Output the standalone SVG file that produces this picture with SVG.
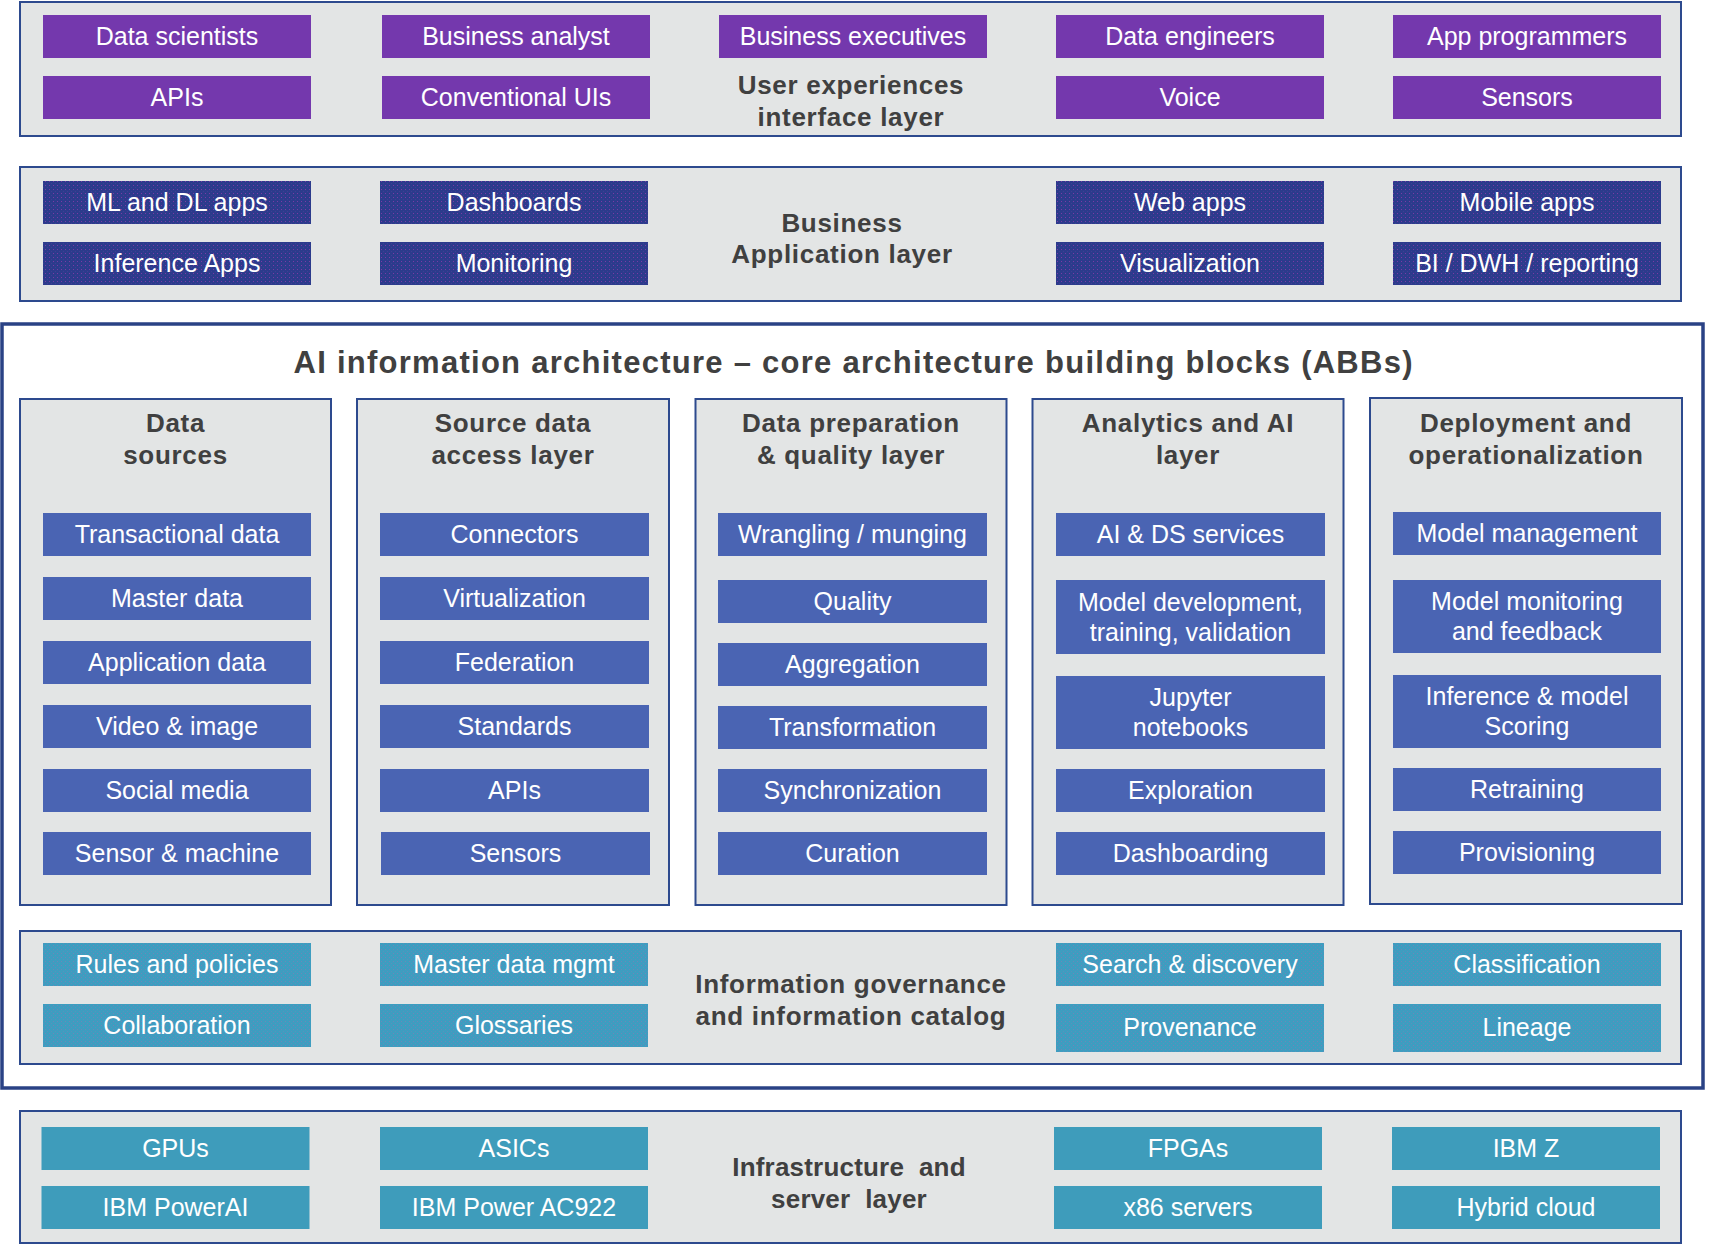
<svg xmlns="http://www.w3.org/2000/svg" width="1709" height="1246" viewBox="0 0 1709 1246">
<defs>
<pattern id="dotsNavy" width="4" height="4" patternUnits="userSpaceOnUse">
<rect width="4" height="4" fill="#2c3b8c"/>
<rect x="1" y="1" width="1" height="1" fill="#7a3aa6"/>
<rect x="3" y="3" width="1" height="1" fill="#3f3d96"/>
</pattern>
<pattern id="dotsTeal" width="4" height="4" patternUnits="userSpaceOnUse">
<rect width="4" height="4" fill="#3e9dc0"/>
<rect x="1" y="1" width="1" height="1" fill="#6f86b8"/>
<rect x="3" y="3" width="1" height="1" fill="#5a90bd"/>
</pattern>
</defs>
<style>
.layer{fill:#e3e5e5;stroke:#2d4a8e;stroke-width:2}
.col{fill:#e3e5e5;stroke:#2d4a8e;stroke-width:2}
.main{fill:#ffffff;stroke:#2a4285;stroke-width:3.5}
.purple{fill:#7438ad}
.navy{fill:url(#dotsNavy)}
.blue{fill:#4a64b3}
.gov{fill:url(#dotsTeal)}
.infra{fill:#3e9cbb}
.it{font-family:"Liberation Sans",Arial,sans-serif;font-size:25px;fill:#ffffff;text-anchor:middle}
.lbl{font-family:"Liberation Sans",Arial,sans-serif;font-size:26px;font-weight:bold;fill:#404040;text-anchor:middle;letter-spacing:0.7px}
.title{font-family:"Liberation Sans",Arial,sans-serif;font-size:31px;font-weight:bold;fill:#404040;text-anchor:middle}
</style>

<g id="user-experience-layer">
<rect class="layer" x="20" y="2" width="1661" height="134"/>
<text class="lbl" x="851" y="94">User experiences</text>
<text class="lbl" x="851" y="126">interface layer</text>
</g>
<g id="ux-data-scientists"><rect class="purple" x="43" y="15" width="268" height="43"/><text class="it" x="177" y="45">Data scientists</text></g>
<g id="ux-business-analyst"><rect class="purple" x="382" y="15" width="268" height="43"/><text class="it" x="516" y="45">Business analyst</text></g>
<g id="ux-business-executives"><rect class="purple" x="719" y="15" width="268" height="43"/><text class="it" x="853" y="45">Business executives</text></g>
<g id="ux-data-engineers"><rect class="purple" x="1056" y="15" width="268" height="43"/><text class="it" x="1190" y="45">Data engineers</text></g>
<g id="ux-app-programmers"><rect class="purple" x="1393" y="15" width="268" height="43"/><text class="it" x="1527" y="45">App programmers</text></g>
<g id="ux-apis"><rect class="purple" x="43" y="76" width="268" height="43"/><text class="it" x="177" y="106">APIs</text></g>
<g id="ux-conventional-uis"><rect class="purple" x="382" y="76" width="268" height="43"/><text class="it" x="516" y="106">Conventional UIs</text></g>
<g id="ux-voice"><rect class="purple" x="1056" y="76" width="268" height="43"/><text class="it" x="1190" y="106">Voice</text></g>
<g id="ux-sensors"><rect class="purple" x="1393" y="76" width="268" height="43"/><text class="it" x="1527" y="106">Sensors</text></g>

<g id="business-application-layer">
<rect class="layer" x="20" y="167" width="1661" height="134"/>
<text class="lbl" x="842" y="232">Business</text>
<text class="lbl" x="842" y="263">Application layer</text>
</g>
<g id="ba-ml-dl-apps"><rect class="navy" x="43" y="181" width="268" height="43"/><text class="it" x="177" y="211">ML and DL apps</text></g>
<g id="ba-dashboards"><rect class="navy" x="380" y="181" width="268" height="43"/><text class="it" x="514" y="211">Dashboards</text></g>
<g id="ba-web-apps"><rect class="navy" x="1056" y="181" width="268" height="43"/><text class="it" x="1190" y="211">Web apps</text></g>
<g id="ba-mobile-apps"><rect class="navy" x="1393" y="181" width="268" height="43"/><text class="it" x="1527" y="211">Mobile apps</text></g>
<g id="ba-inference-apps"><rect class="navy" x="43" y="242" width="268" height="43"/><text class="it" x="177" y="272">Inference Apps</text></g>
<g id="ba-monitoring"><rect class="navy" x="380" y="242" width="268" height="43"/><text class="it" x="514" y="272">Monitoring</text></g>
<g id="ba-visualization"><rect class="navy" x="1056" y="242" width="268" height="43"/><text class="it" x="1190" y="272">Visualization</text></g>
<g id="ba-bi-dwh"><rect class="navy" x="1393" y="242" width="268" height="43"/><text class="it" x="1527" y="272">BI / DWH / reporting</text></g>

<g id="ai-information-architecture">
<rect class="main" x="2" y="324" width="1701" height="764"/>
<text class="title" x="853" y="373" textLength="1119" lengthAdjust="spacing">AI information architecture – core architecture building blocks (ABBs)</text>
</g>

<g id="col-data-sources">
<rect class="col" x="20" y="399" width="311" height="506"/>
<text class="lbl" x="175.5" y="432">Data</text>
<text class="lbl" x="175.5" y="464">sources</text>
</g>
<g id="ds-transactional"><rect class="blue" x="43" y="513" width="268" height="43"/><text class="it" x="177" y="543">Transactional data</text></g>
<g id="ds-master"><rect class="blue" x="43" y="577" width="268" height="43"/><text class="it" x="177" y="607">Master data</text></g>
<g id="ds-application"><rect class="blue" x="43" y="641" width="268" height="43"/><text class="it" x="177" y="671">Application data</text></g>
<g id="ds-video"><rect class="blue" x="43" y="705" width="268" height="43"/><text class="it" x="177" y="735">Video &amp; image</text></g>
<g id="ds-social"><rect class="blue" x="43" y="769" width="268" height="43"/><text class="it" x="177" y="799">Social media</text></g>
<g id="ds-sensor"><rect class="blue" x="43" y="832" width="268" height="43"/><text class="it" x="177" y="862">Sensor &amp; machine</text></g>

<g id="col-source-access">
<rect class="col" x="357" y="399" width="312" height="506"/>
<text class="lbl" x="513" y="432">Source data</text>
<text class="lbl" x="513" y="464">access layer</text>
</g>
<g id="sa-connectors"><rect class="blue" x="380" y="513" width="269" height="43"/><text class="it" x="514.5" y="543">Connectors</text></g>
<g id="sa-virtualization"><rect class="blue" x="380" y="577" width="269" height="43"/><text class="it" x="514.5" y="607">Virtualization</text></g>
<g id="sa-federation"><rect class="blue" x="380" y="641" width="269" height="43"/><text class="it" x="514.5" y="671">Federation</text></g>
<g id="sa-standards"><rect class="blue" x="380" y="705" width="269" height="43"/><text class="it" x="514.5" y="735">Standards</text></g>
<g id="sa-apis"><rect class="blue" x="380" y="769" width="269" height="43"/><text class="it" x="514.5" y="799">APIs</text></g>
<g id="sa-sensors"><rect class="blue" x="381" y="832" width="269" height="43"/><text class="it" x="515.5" y="862">Sensors</text></g>

<g id="col-data-preparation">
<rect class="col" x="695.5" y="399" width="311" height="506"/>
<text class="lbl" x="851" y="432">Data preparation</text>
<text class="lbl" x="851" y="464">&amp; quality layer</text>
</g>
<g id="dp-wrangling"><rect class="blue" x="718" y="513" width="269" height="43"/><text class="it" x="852.5" y="543">Wrangling / munging</text></g>
<g id="dp-quality"><rect class="blue" x="718" y="580" width="269" height="43"/><text class="it" x="852.5" y="610">Quality</text></g>
<g id="dp-aggregation"><rect class="blue" x="718" y="643" width="269" height="43"/><text class="it" x="852.5" y="673">Aggregation</text></g>
<g id="dp-transformation"><rect class="blue" x="718" y="706" width="269" height="43"/><text class="it" x="852.5" y="736">Transformation</text></g>
<g id="dp-synchronization"><rect class="blue" x="718" y="769" width="269" height="43"/><text class="it" x="852.5" y="799">Synchronization</text></g>
<g id="dp-curation"><rect class="blue" x="718" y="832" width="269" height="43"/><text class="it" x="852.5" y="862">Curation</text></g>

<g id="col-analytics-ai">
<rect class="col" x="1032.5" y="399" width="311" height="506"/>
<text class="lbl" x="1188" y="432">Analytics and AI</text>
<text class="lbl" x="1188" y="464">layer</text>
</g>
<g id="an-ai-ds-services"><rect class="blue" x="1056" y="513" width="269" height="43"/><text class="it" x="1190.5" y="543">AI &amp; DS services</text></g>
<g id="an-model-dev"><rect class="blue" x="1056" y="580" width="269" height="74"/><text class="it" x="1190.5" y="611">Model development,</text><text class="it" x="1190.5" y="641">training, validation</text></g>
<g id="an-jupyter"><rect class="blue" x="1056" y="676" width="269" height="73"/><text class="it" x="1190.5" y="706">Jupyter</text><text class="it" x="1190.5" y="736">notebooks</text></g>
<g id="an-exploration"><rect class="blue" x="1056" y="769" width="269" height="43"/><text class="it" x="1190.5" y="799">Exploration</text></g>
<g id="an-dashboarding"><rect class="blue" x="1056" y="832" width="269" height="43"/><text class="it" x="1190.5" y="862">Dashboarding</text></g>

<g id="col-deployment">
<rect class="col" x="1370" y="398" width="312" height="506"/>
<text class="lbl" x="1526" y="432">Deployment and</text>
<text class="lbl" x="1526" y="464">operationalization</text>
</g>
<g id="dep-model-management"><rect class="blue" x="1393" y="512" width="268" height="43"/><text class="it" x="1527" y="542">Model management</text></g>
<g id="dep-model-monitoring"><rect class="blue" x="1393" y="580" width="268" height="73"/><text class="it" x="1527" y="610">Model monitoring</text><text class="it" x="1527" y="640">and feedback</text></g>
<g id="dep-inference-scoring"><rect class="blue" x="1393" y="675" width="268" height="73"/><text class="it" x="1527" y="705">Inference &amp; model</text><text class="it" x="1527" y="735">Scoring</text></g>
<g id="dep-retraining"><rect class="blue" x="1393" y="768" width="268" height="43"/><text class="it" x="1527" y="798">Retraining</text></g>
<g id="dep-provisioning"><rect class="blue" x="1393" y="831" width="268" height="43"/><text class="it" x="1527" y="861">Provisioning</text></g>

<g id="governance-layer">
<rect class="layer" x="20" y="931" width="1661" height="133"/>
<text class="lbl" x="851" y="993">Information governance</text>
<text class="lbl" x="851" y="1025">and information catalog</text>
</g>
<g id="gov-rules"><rect class="gov" x="43" y="943" width="268" height="43"/><text class="it" x="177" y="973">Rules and policies</text></g>
<g id="gov-master-data"><rect class="gov" x="380" y="943" width="268" height="43"/><text class="it" x="514" y="973">Master data mgmt</text></g>
<g id="gov-search"><rect class="gov" x="1056" y="943" width="268" height="43"/><text class="it" x="1190" y="973">Search &amp; discovery</text></g>
<g id="gov-classification"><rect class="gov" x="1393" y="943" width="268" height="43"/><text class="it" x="1527" y="973">Classification</text></g>
<g id="gov-collaboration"><rect class="gov" x="43" y="1004" width="268" height="43"/><text class="it" x="177" y="1034">Collaboration</text></g>
<g id="gov-glossaries"><rect class="gov" x="380" y="1004" width="268" height="43"/><text class="it" x="514" y="1034">Glossaries</text></g>
<g id="gov-provenance"><rect class="gov" x="1056" y="1004" width="268" height="48"/><text class="it" x="1190" y="1036">Provenance</text></g>
<g id="gov-lineage"><rect class="gov" x="1393" y="1004" width="268" height="48"/><text class="it" x="1527" y="1036">Lineage</text></g>

<g id="infrastructure-layer">
<rect class="layer" x="20" y="1111" width="1661" height="132"/>
<text class="lbl" x="849" y="1176" style="white-space:pre;letter-spacing:0.2px">Infrastructure  and</text>
<text class="lbl" x="849" y="1208" style="white-space:pre;letter-spacing:0.2px">server  layer</text>
</g>
<g id="inf-gpus"><rect class="infra" x="41.5" y="1127" width="268" height="43"/><text class="it" x="175.5" y="1157">GPUs</text></g>
<g id="inf-asics"><rect class="infra" x="380" y="1127" width="268" height="43"/><text class="it" x="514" y="1157">ASICs</text></g>
<g id="inf-fpgas"><rect class="infra" x="1054" y="1127" width="268" height="43"/><text class="it" x="1188" y="1157">FPGAs</text></g>
<g id="inf-ibm-z"><rect class="infra" x="1392" y="1127" width="268" height="43"/><text class="it" x="1526" y="1157">IBM Z</text></g>
<g id="inf-poweral"><rect class="infra" x="41.5" y="1186" width="268" height="43"/><text class="it" x="175.5" y="1216">IBM PowerAI</text></g>
<g id="inf-ac922"><rect class="infra" x="380" y="1186" width="268" height="43"/><text class="it" x="514" y="1216">IBM Power AC922</text></g>
<g id="inf-x86"><rect class="infra" x="1054" y="1186" width="268" height="43"/><text class="it" x="1188" y="1216">x86 servers</text></g>
<g id="inf-hybrid-cloud"><rect class="infra" x="1392" y="1186" width="268" height="43"/><text class="it" x="1526" y="1216">Hybrid cloud</text></g>

<g id="connectors"></g>
</svg>
